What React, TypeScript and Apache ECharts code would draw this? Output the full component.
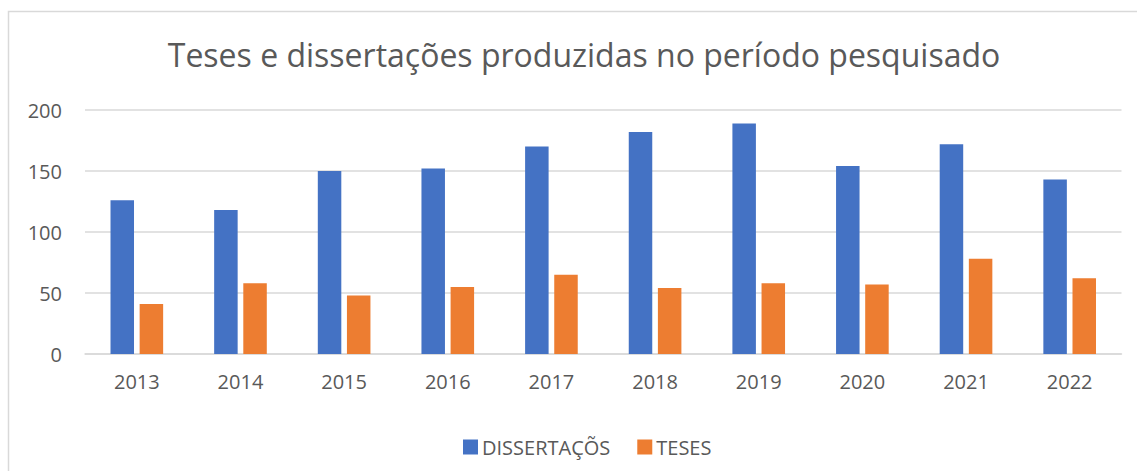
import React, { useEffect, useRef } from "react";
import * as echarts from "echarts";

const years = ["2013", "2014", "2015", "2016", "2017", "2018", "2019", "2020", "2021", "2022"];
const dissertacoes = [126, 118, 150, 152, 170, 182, 189, 154, 172, 143];
const teses = [41, 58, 48, 55, 65, 54, 58, 57, 78, 62];
const titleText = "Teses e dissertações produzidas no período pesquisado";
const seriesNames = ["DISSERTAÇÕS", "TESES"];

const FONT = "'Open Sans', 'Noto Sans', sans-serif";
const GRAY = "#595959";
const GRID = "#d9d9d9";

export default function App() {
  const ref = useRef<HTMLDivElement>(null);
  useEffect(() => {
    if (!ref.current) return;
    const chart = echarts.init(ref.current, undefined, { renderer: "svg" });
    chart.setOption({
      animation: false,
      backgroundColor: "#ffffff",
      textStyle: { fontFamily: FONT },
      title: {
        text: titleText,
        left: 579,
        top: 33,
        textAlign: "center",
        textStyle: { fontFamily: FONT, fontSize: 32, fontWeight: "normal", color: GRAY },
      },
      graphic: [
        {
          type: "rect",
          shape: { x: 8.5, y: 11.5, width: 1140, height: 470 },
          style: { fill: "none", stroke: GRID, lineWidth: 1.5 },
          silent: true,
        },
      ],
      legend: {
        data: seriesNames,
        left: 458,
        top: 432,
        itemWidth: 15,
        itemHeight: 15,
        itemGap: 27,
        icon: "rect",
        textStyle: { fontFamily: FONT, fontSize: 20, color: GRAY, padding: [0, 0, 0, -1] },
      },
      grid: { left: 85, right: 15.5, top: 110, bottom: 117 },
      xAxis: {
        type: "category",
        data: years,
        axisLine: { show: true, lineStyle: { color: GRID, width: 1.5 } },
        axisTick: { show: false },
        axisLabel: { color: GRAY, fontSize: 20, fontFamily: FONT, margin: 17 },
      },
      yAxis: {
        type: "value",
        min: 0,
        max: 200,
        interval: 50,
        axisLine: { show: false },
        axisTick: { show: false },
        axisLabel: { color: GRAY, fontSize: 20, fontFamily: FONT, margin: 23 },
        splitLine: { lineStyle: { color: GRID, width: 1.5 } },
      },
      series: [
        {
          name: seriesNames[0],
          type: "bar",
          data: dissertacoes,
          barWidth: 23.5,
          barGap: "24%",
          itemStyle: { color: "#4472C4" },
        },
        {
          name: seriesNames[1],
          type: "bar",
          data: teses,
          barWidth: 23.5,
          itemStyle: { color: "#ED7D31" },
        },
      ],
    });
    return () => chart.dispose();
  }, []);
  return (
    <div
      ref={ref}
      style={{ position: "fixed", left: 0, top: 0, width: 1137, height: 471, background: "#fff" }}
    />
  );
}
